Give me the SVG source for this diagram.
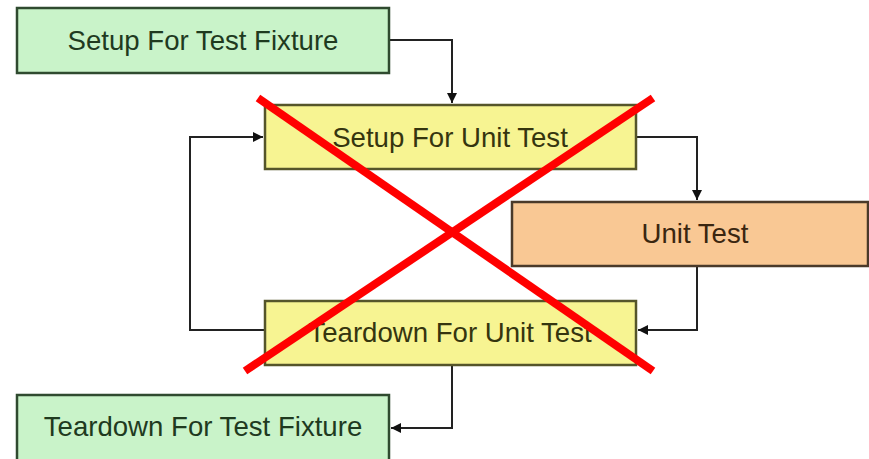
<svg xmlns="http://www.w3.org/2000/svg" width="869" height="459" viewBox="0 0 869 459">
<style>
.box{stroke-width:2.5}
.green{fill:#c9f3c9;stroke:#2f4a2f}
.yellow{fill:#f7f492;stroke:#55552a}
.orange{fill:#f9c894;stroke:#4a3a2a}
text{font-family:"Liberation Sans",Arial,sans-serif;font-size:27.6px;text-anchor:middle;dominant-baseline:central}
.tg{fill:#1f3a1f}
.ty{fill:#35350f}
.to{fill:#3a2610}
.conn{fill:none;stroke:#222;stroke-width:2}
.cross{stroke:#ff0000;stroke-width:8;stroke-linecap:butt}
</style>
<defs>
<marker id="arr" viewBox="0 0 10 10" refX="10" refY="5" markerWidth="12" markerHeight="10" markerUnits="userSpaceOnUse" orient="auto">
<path d="M0,0 L10,5 L0,10 Z" fill="#111"/>
</marker>
</defs>
<rect width="869" height="459" fill="#ffffff"/>
<g id="connectors">
<path class="conn" d="M389,40 H452 V103" marker-end="url(#arr)"/>
<path class="conn" d="M636,137 H697 V200" marker-end="url(#arr)"/>
<path class="conn" d="M697,266 V330 H638" marker-end="url(#arr)"/>
<path class="conn" d="M265,330 H190 V137 H263" marker-end="url(#arr)"/>
<path class="conn" d="M452,365 V428 H391" marker-end="url(#arr)"/>
</g>
<g id="setup-fixture">
<rect class="box green" x="17" y="8" width="372" height="65"/>
<text class="tg" x="203" y="40">Setup For Test Fixture</text>
</g>
<g id="setup-unit">
<rect class="box yellow" x="265" y="105" width="371" height="64"/>
<text class="ty" x="450" y="137">Setup For Unit Test</text>
</g>
<g id="unit-test">
<rect class="box orange" x="512" y="202" width="356" height="64"/>
<text class="to" x="695" y="233">Unit Test</text>
</g>
<g id="teardown-unit">
<rect class="box yellow" x="265" y="301" width="371" height="64"/>
<text class="ty" x="450" y="332">Teardown For Unit Test</text>
</g>
<g id="teardown-fixture">
<rect class="box green" x="17" y="395" width="372" height="66"/>
<text class="tg" x="203" y="426">Teardown For Test Fixture</text>
</g>
<g id="cross">
<line class="cross" x1="258" y1="98" x2="653" y2="371"/>
<line class="cross" x1="653" y1="98" x2="245" y2="371"/>
</g>
</svg>
